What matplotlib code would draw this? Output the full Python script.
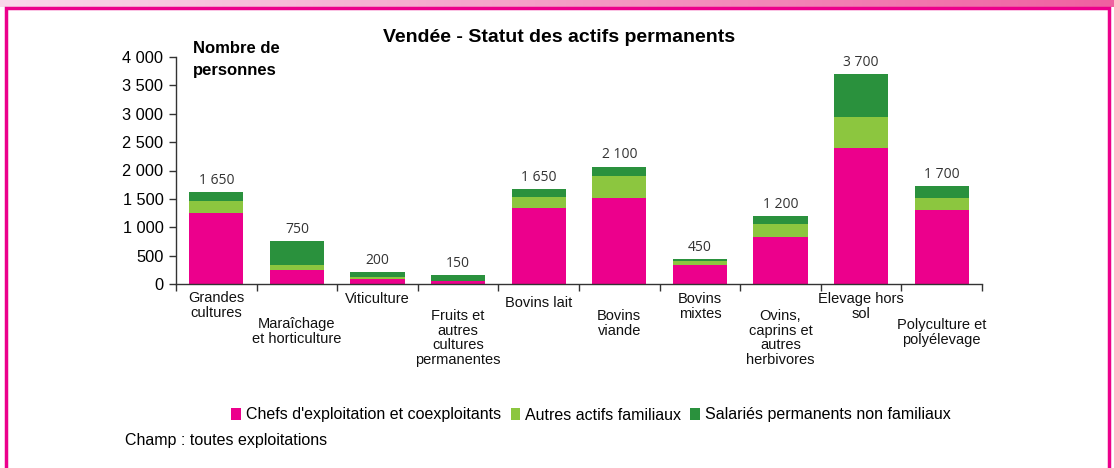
import matplotlib
matplotlib.use("Agg")
import matplotlib.pyplot as plt
import numpy as np
from matplotlib.patches import Rectangle

categories = ["Grandes\ncultures", "Maraîchage\net horticulture", "Viticulture",
              "Fruits et\nautres\ncultures\npermanentes", "Bovins lait", "Bovins\nviande",
              "Bovins\nmixtes", "Ovins,\ncaprins et\nautres\nherbivores", "Elevage hors\nsol",
              "Polyculture et\npolyélevage"]
chefs = [1250, 250, 90, 50, 1340, 1510, 330, 820, 2390, 1300]
autres = [210, 85, 35, 5, 195, 400, 70, 230, 545, 210]
salaries = [160, 420, 85, 100, 140, 160, 35, 140, 760, 210]
totals_labels = ["1 650", "750", "200", "150", "1 650", "2 100", "450", "1 200", "3 700", "1 700"]
series_names = ["Chefs d'exploitation et coexploitants", "Autres actifs familiaux",
                "Salariés permanents non familiaux"]
yticks = [0, 500, 1000, 1500, 2000, 2500, 3000, 3500, 4000]
ytick_labels = ["0", "500", "1 000", "1 500", "2 000", "2 500", "3 000", "3 500", "4 000"]

colors = ["#ec008c", "#8cc63f", "#2a913d"]
W, H = 1114, 468
fig = plt.figure(figsize=(W / 100, H / 100), dpi=100)
plt.rcParams['font.family'] = ['Liberation Sans', 'DejaVu Sans']

def fx(px):
    return px / W

def fy(py):
    return 1 - py / H

# frame: top gradient band and magenta border
gax = fig.add_axes([0, fy(7), 1, 7 / H])
grad = np.linspace(0, 1, 256)
rgb0 = np.array([0.98, 0.85, 0.92])
rgb1 = np.array([0.94, 0.38, 0.63])
img = rgb0[None, :] * (1 - grad[:, None]) + rgb1[None, :] * grad[:, None]
gax.imshow(img[None, :, :], aspect='auto', extent=[0, 1, 0, 1])
gax.axis('off')
fig.patches.append(Rectangle((fx(6), -0.01), fx(1109) - fx(6), fy(8) + 0.01,
                             transform=fig.transFigure, fill=False,
                             edgecolor="#ec008c", linewidth=2.5, zorder=0))

ax = fig.add_axes([fx(176), fy(284), fx(982) - fx(176), fy(57) - fy(284)])
x = np.arange(len(categories))
b1 = ax.bar(x, chefs, width=0.67, color=colors[0], label=series_names[0])
b2 = ax.bar(x, autres, width=0.67, bottom=chefs, color=colors[1], label=series_names[1])
bottom2 = [a + b for a, b in zip(chefs, autres)]
b3 = ax.bar(x, salaries, width=0.67, bottom=bottom2, color=colors[2], label=series_names[2])
tops = [a + b for a, b in zip(bottom2, salaries)]
for xi, t, lab in zip(x, tops, totals_labels):
    ax.annotate(lab, (xi, t), xytext=(0, 3), textcoords='offset points', ha='center',
                va='bottom', fontsize=10, color='#333333', family=['Open Sans', 'DejaVu Sans'])

ax.set_xlim(-0.5, len(categories) - 0.5)
ax.set_ylim(0, 4000)
ax.set_yticks(yticks)
ax.set_yticklabels(ytick_labels, fontsize=11.8)
ax.set_xticks(np.arange(len(categories) + 1) - 0.5)
ax.set_xticklabels([])
ax.tick_params(axis='x', direction='out', length=5, width=1, color='#333333')
ax.tick_params(axis='y', direction='out', length=5, width=1, color='#333333', pad=4)
for s in ['top', 'right']:
    ax.spines[s].set_visible(False)
for s in ['left', 'bottom']:
    ax.spines[s].set_color('#333333')
    ax.spines[s].set_linewidth(1)

# category labels (staggered)
label_tops = [291, 317, 292, 309, 296, 309, 292, 309, 292, 318]
for xi, lab, ty in zip(x, categories, label_tops):
    xpix = 176 + (xi + 0.5) * (982 - 176) / len(categories)
    fig.text(fx(xpix), fy(ty), lab, ha='center', va='top', fontsize=10.5,
             linespacing=1.05, color='#111111')

fig.text(fx(559), fy(38), "Vendée - Statut des actifs permanents", ha='center',
         va='center', fontsize=14, fontweight='bold')
fig.text(fx(193), fy(41), "Nombre de\npersonnes", ha='left', va='top', fontsize=12,
         fontweight='bold', linespacing=1.6)

leg = fig.legend(handles=[b1, b2, b3], loc='center', bbox_to_anchor=(fx(591), fy(415)),
                 ncol=3, frameon=False, fontsize=11.5, handlelength=0.6, handleheight=0.7,
                 handletextpad=0.3, columnspacing=0.6)
fig.text(fx(125), fy(440), "Champ : toutes exploitations", ha='left', va='center', fontsize=11.5)

fig.savefig("out.png", dpi=100)
